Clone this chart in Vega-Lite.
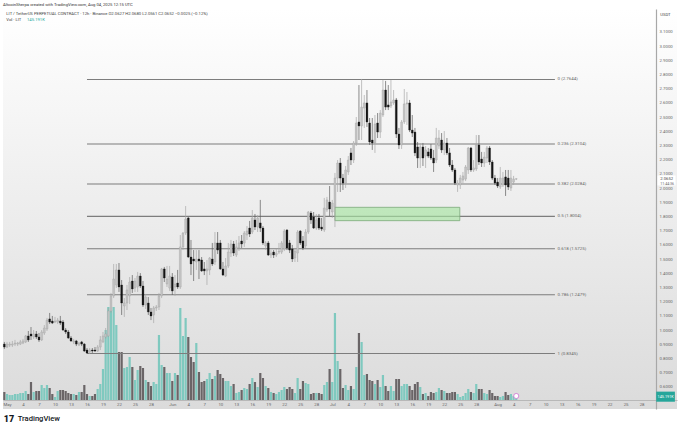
{"$schema":"https://vega.github.io/schema/vega-lite/v6.json","width":674,"height":400,"autosize":"none","padding":{"left":3,"top":9,"right":3,"bottom":21},"background":"#ffffff",
"config":{"axis":{"labelOverlap":false,"labelFlush":false,"labelFont":"Roboto","labelFontSize":4.3,"labelColor":"#666666","ticks":false,"grid":false,"title":null,"labelBound":false,"labelSeparation":0,"tickCount":100}},
"view":{"stroke":null,"fill":{"gradient":"linear","x1":0,"y1":0,"x2":0,"y2":1,"stops":[{"offset":0,"color":"#ffffff"},{"offset":1,"color":"#dbdbdb"}]}},
"title":{"text":"AltcoinSherpa created with TradingView.com, Aug 04, 2025 12:15 UTC","anchor":"start","frame":"group","fontSize":4.2,"fontWeight":"normal","font":"Roboto","color":"#333333","offset":2},
"datasets":{
"bars":[
{"d":"2025-04-30T12:00Z","o":0.901,"h":0.916,"l":0.866,"c":0.880,"v":384},
{"d":"2025-05-01T00:00Z","o":0.880,"h":0.916,"l":0.873,"c":0.901,"v":288},
{"d":"2025-05-01T12:00Z","o":0.894,"h":0.916,"l":0.880,"c":0.901,"v":240},
{"d":"2025-05-02T00:00Z","o":0.894,"h":0.923,"l":0.880,"c":0.901,"v":240},
{"d":"2025-05-02T12:00Z","o":0.901,"h":0.930,"l":0.887,"c":0.908,"v":288},
{"d":"2025-05-03T00:00Z","o":0.901,"h":0.916,"l":0.887,"c":0.908,"v":288},
{"d":"2025-05-03T12:00Z","o":0.901,"h":0.930,"l":0.894,"c":0.916,"v":336},
{"d":"2025-05-04T00:00Z","o":0.908,"h":0.937,"l":0.901,"c":0.923,"v":336},
{"d":"2025-05-04T12:00Z","o":0.916,"h":0.965,"l":0.908,"c":0.958,"v":432},
{"d":"2025-05-05T00:00Z","o":0.958,"h":0.993,"l":0.916,"c":0.930,"v":288},
{"d":"2025-05-05T12:00Z","o":0.972,"h":1.021,"l":0.930,"c":0.958,"v":864},
{"d":"2025-05-06T00:00Z","o":0.951,"h":1.000,"l":0.937,"c":0.972,"v":384},
{"d":"2025-05-06T12:00Z","o":0.972,"h":0.993,"l":0.937,"c":0.951,"v":432},
{"d":"2025-05-07T00:00Z","o":0.951,"h":0.979,"l":0.916,"c":0.930,"v":432},
{"d":"2025-05-07T12:00Z","o":0.930,"h":1.000,"l":0.923,"c":0.986,"v":720},
{"d":"2025-05-08T00:00Z","o":0.979,"h":1.035,"l":0.965,"c":1.014,"v":576},
{"d":"2025-05-08T12:00Z","o":1.007,"h":1.085,"l":0.993,"c":1.070,"v":720},
{"d":"2025-05-09T00:00Z","o":1.078,"h":1.120,"l":1.042,"c":1.056,"v":576},
{"d":"2025-05-09T12:00Z","o":1.063,"h":1.099,"l":1.042,"c":1.049,"v":288},
{"d":"2025-05-10T00:00Z","o":1.056,"h":1.092,"l":1.049,"c":1.063,"v":144},
{"d":"2025-05-10T12:00Z","o":1.056,"h":1.085,"l":1.042,"c":1.070,"v":432},
{"d":"2025-05-11T00:00Z","o":1.063,"h":1.099,"l":1.035,"c":1.049,"v":480},
{"d":"2025-05-11T12:00Z","o":1.056,"h":1.070,"l":0.993,"c":1.000,"v":480},
{"d":"2025-05-12T00:00Z","o":1.000,"h":1.014,"l":0.972,"c":0.986,"v":432},
{"d":"2025-05-12T12:00Z","o":0.986,"h":1.000,"l":0.937,"c":0.944,"v":336},
{"d":"2025-05-13T00:00Z","o":0.944,"h":0.958,"l":0.916,"c":0.923,"v":288},
{"d":"2025-05-13T12:00Z","o":0.916,"h":0.937,"l":0.901,"c":0.923,"v":288},
{"d":"2025-05-14T00:00Z","o":0.923,"h":0.930,"l":0.887,"c":0.901,"v":240},
{"d":"2025-05-14T12:00Z","o":0.894,"h":0.916,"l":0.887,"c":0.908,"v":384},
{"d":"2025-05-15T00:00Z","o":0.916,"h":0.923,"l":0.887,"c":0.901,"v":384},
{"d":"2025-05-15T12:00Z","o":0.901,"h":0.908,"l":0.845,"c":0.852,"v":720},
{"d":"2025-05-16T00:00Z","o":0.859,"h":0.873,"l":0.831,"c":0.838,"v":288},
{"d":"2025-05-16T12:00Z","o":0.845,"h":0.873,"l":0.831,"c":0.859,"v":192},
{"d":"2025-05-17T00:00Z","o":0.859,"h":0.873,"l":0.838,"c":0.852,"v":192},
{"d":"2025-05-17T12:00Z","o":0.859,"h":0.880,"l":0.845,"c":0.852,"v":288},
{"d":"2025-05-18T00:00Z","o":0.852,"h":0.894,"l":0.845,"c":0.880,"v":528},
{"d":"2025-05-18T12:00Z","o":0.880,"h":0.958,"l":0.859,"c":0.930,"v":768},
{"d":"2025-05-19T00:00Z","o":0.916,"h":0.986,"l":0.908,"c":0.958,"v":1488},
{"d":"2025-05-19T12:00Z","o":0.951,"h":1.014,"l":0.937,"c":0.972,"v":3360},
{"d":"2025-05-20T00:00Z","o":0.958,"h":1.155,"l":0.951,"c":1.134,"v":4464},
{"d":"2025-05-20T12:00Z","o":1.134,"h":1.261,"l":1.120,"c":1.240,"v":4464},
{"d":"2025-05-21T00:00Z","o":1.240,"h":1.465,"l":1.225,"c":1.359,"v":4464},
{"d":"2025-05-21T12:00Z","o":1.317,"h":1.465,"l":1.296,"c":1.423,"v":3600},
{"d":"2025-05-22T00:00Z","o":1.423,"h":1.472,"l":1.268,"c":1.303,"v":2304},
{"d":"2025-05-22T12:00Z","o":1.317,"h":1.352,"l":1.106,"c":1.190,"v":2304},
{"d":"2025-05-23T00:00Z","o":1.169,"h":1.225,"l":1.092,"c":1.190,"v":1536},
{"d":"2025-05-23T12:00Z","o":1.190,"h":1.317,"l":1.141,"c":1.282,"v":1584},
{"d":"2025-05-24T00:00Z","o":1.240,"h":1.373,"l":1.183,"c":1.338,"v":2064},
{"d":"2025-05-24T12:00Z","o":1.345,"h":1.387,"l":1.261,"c":1.289,"v":1584},
{"d":"2025-05-25T00:00Z","o":1.296,"h":1.366,"l":1.268,"c":1.345,"v":960},
{"d":"2025-05-25T12:00Z","o":1.303,"h":1.409,"l":1.268,"c":1.380,"v":1440},
{"d":"2025-05-26T00:00Z","o":1.380,"h":1.401,"l":1.296,"c":1.310,"v":1632},
{"d":"2025-05-26T12:00Z","o":1.310,"h":1.345,"l":1.162,"c":1.176,"v":1536},
{"d":"2025-05-27T00:00Z","o":1.176,"h":1.254,"l":1.148,"c":1.232,"v":960},
{"d":"2025-05-27T12:00Z","o":1.190,"h":1.232,"l":1.106,"c":1.127,"v":864},
{"d":"2025-05-28T00:00Z","o":1.127,"h":1.155,"l":1.070,"c":1.099,"v":672},
{"d":"2025-05-28T12:00Z","o":1.106,"h":1.169,"l":1.049,"c":1.155,"v":864},
{"d":"2025-05-29T00:00Z","o":1.155,"h":1.176,"l":1.134,"c":1.162,"v":768},
{"d":"2025-05-29T12:00Z","o":1.162,"h":1.261,"l":1.141,"c":1.240,"v":3120},
{"d":"2025-05-30T00:00Z","o":1.240,"h":1.437,"l":1.225,"c":1.430,"v":1680},
{"d":"2025-05-30T12:00Z","o":1.430,"h":1.444,"l":1.338,"c":1.366,"v":1584},
{"d":"2025-05-31T00:00Z","o":1.324,"h":1.451,"l":1.303,"c":1.359,"v":1296},
{"d":"2025-05-31T12:00Z","o":1.296,"h":1.451,"l":1.275,"c":1.380,"v":1296},
{"d":"2025-06-01T00:00Z","o":1.373,"h":1.401,"l":1.247,"c":1.275,"v":912},
{"d":"2025-06-01T12:00Z","o":1.303,"h":1.387,"l":1.240,"c":1.324,"v":1296},
{"d":"2025-06-02T00:00Z","o":1.331,"h":1.423,"l":1.289,"c":1.303,"v":1200},
{"d":"2025-06-02T12:00Z","o":1.303,"h":1.669,"l":1.289,"c":1.585,"v":4416},
{"d":"2025-06-03T00:00Z","o":1.585,"h":1.690,"l":1.563,"c":1.683,"v":3072},
{"d":"2025-06-03T12:00Z","o":1.683,"h":1.873,"l":1.669,"c":1.782,"v":3936},
{"d":"2025-06-04T00:00Z","o":1.789,"h":1.796,"l":1.507,"c":1.514,"v":3024},
{"d":"2025-06-04T12:00Z","o":1.514,"h":1.634,"l":1.387,"c":1.465,"v":2064},
{"d":"2025-06-05T00:00Z","o":1.500,"h":1.563,"l":1.345,"c":1.486,"v":1824},
{"d":"2025-06-05T12:00Z","o":1.479,"h":1.563,"l":1.423,"c":1.500,"v":2736},
{"d":"2025-06-06T00:00Z","o":1.500,"h":1.563,"l":1.359,"c":1.486,"v":1344},
{"d":"2025-06-06T12:00Z","o":1.493,"h":1.514,"l":1.409,"c":1.416,"v":864},
{"d":"2025-06-07T00:00Z","o":1.430,"h":1.479,"l":1.387,"c":1.416,"v":912},
{"d":"2025-06-07T12:00Z","o":1.416,"h":1.493,"l":1.317,"c":1.430,"v":1008},
{"d":"2025-06-08T00:00Z","o":1.423,"h":1.514,"l":1.387,"c":1.507,"v":1296},
{"d":"2025-06-08T12:00Z","o":1.500,"h":1.613,"l":1.451,"c":1.465,"v":1008},
{"d":"2025-06-09T00:00Z","o":1.479,"h":1.690,"l":1.458,"c":1.613,"v":1152},
{"d":"2025-06-09T12:00Z","o":1.613,"h":1.690,"l":1.535,"c":1.563,"v":1440},
{"d":"2025-06-10T00:00Z","o":1.613,"h":1.634,"l":1.423,"c":1.430,"v":1248},
{"d":"2025-06-10T12:00Z","o":1.430,"h":1.479,"l":1.380,"c":1.387,"v":1056},
{"d":"2025-06-11T00:00Z","o":1.380,"h":1.507,"l":1.373,"c":1.451,"v":912},
{"d":"2025-06-11T12:00Z","o":1.451,"h":1.613,"l":1.437,"c":1.549,"v":912},
{"d":"2025-06-12T00:00Z","o":1.542,"h":1.634,"l":1.514,"c":1.606,"v":672},
{"d":"2025-06-12T12:00Z","o":1.606,"h":1.627,"l":1.521,"c":1.542,"v":768},
{"d":"2025-06-13T00:00Z","o":1.528,"h":1.634,"l":1.514,"c":1.585,"v":336},
{"d":"2025-06-13T12:00Z","o":1.578,"h":1.662,"l":1.556,"c":1.613,"v":384},
{"d":"2025-06-14T00:00Z","o":1.627,"h":1.669,"l":1.578,"c":1.606,"v":480},
{"d":"2025-06-14T12:00Z","o":1.613,"h":1.697,"l":1.585,"c":1.683,"v":576},
{"d":"2025-06-15T00:00Z","o":1.669,"h":1.732,"l":1.634,"c":1.697,"v":528},
{"d":"2025-06-15T12:00Z","o":1.718,"h":1.768,"l":1.655,"c":1.676,"v":768},
{"d":"2025-06-16T00:00Z","o":1.690,"h":1.845,"l":1.676,"c":1.789,"v":1056},
{"d":"2025-06-16T12:00Z","o":1.775,"h":1.817,"l":1.704,"c":1.725,"v":864},
{"d":"2025-06-17T00:00Z","o":1.725,"h":1.810,"l":1.690,"c":1.789,"v":624},
{"d":"2025-06-17T12:00Z","o":1.754,"h":1.916,"l":1.690,"c":1.718,"v":1296},
{"d":"2025-06-18T00:00Z","o":1.718,"h":1.732,"l":1.599,"c":1.613,"v":1056},
{"d":"2025-06-18T12:00Z","o":1.592,"h":1.627,"l":1.563,"c":1.613,"v":672},
{"d":"2025-06-19T00:00Z","o":1.613,"h":1.627,"l":1.521,"c":1.528,"v":576},
{"d":"2025-06-19T12:00Z","o":1.528,"h":1.563,"l":1.507,"c":1.542,"v":384},
{"d":"2025-06-20T00:00Z","o":1.549,"h":1.563,"l":1.507,"c":1.528,"v":336},
{"d":"2025-06-20T12:00Z","o":1.528,"h":1.571,"l":1.514,"c":1.542,"v":288},
{"d":"2025-06-21T00:00Z","o":1.549,"h":1.613,"l":1.535,"c":1.556,"v":384},
{"d":"2025-06-21T12:00Z","o":1.549,"h":1.627,"l":1.535,"c":1.613,"v":480},
{"d":"2025-06-22T00:00Z","o":1.571,"h":1.711,"l":1.556,"c":1.697,"v":624},
{"d":"2025-06-22T12:00Z","o":1.704,"h":1.711,"l":1.563,"c":1.578,"v":528},
{"d":"2025-06-23T00:00Z","o":1.613,"h":1.634,"l":1.542,"c":1.563,"v":624},
{"d":"2025-06-23T12:00Z","o":1.571,"h":1.599,"l":1.479,"c":1.500,"v":528},
{"d":"2025-06-24T00:00Z","o":1.507,"h":1.578,"l":1.479,"c":1.556,"v":336},
{"d":"2025-06-24T12:00Z","o":1.542,"h":1.704,"l":1.479,"c":1.690,"v":1056},
{"d":"2025-06-25T00:00Z","o":1.697,"h":1.704,"l":1.599,"c":1.613,"v":528},
{"d":"2025-06-25T12:00Z","o":1.627,"h":1.662,"l":1.563,"c":1.578,"v":912},
{"d":"2025-06-26T00:00Z","o":1.592,"h":1.711,"l":1.578,"c":1.690,"v":816},
{"d":"2025-06-26T12:00Z","o":1.690,"h":1.838,"l":1.676,"c":1.831,"v":768},
{"d":"2025-06-27T00:00Z","o":1.824,"h":1.838,"l":1.747,"c":1.775,"v":288},
{"d":"2025-06-27T12:00Z","o":1.796,"h":1.831,"l":1.711,"c":1.718,"v":336},
{"d":"2025-06-28T00:00Z","o":1.718,"h":1.817,"l":1.704,"c":1.775,"v":336},
{"d":"2025-06-28T12:00Z","o":1.789,"h":1.817,"l":1.704,"c":1.718,"v":336},
{"d":"2025-06-29T00:00Z","o":1.725,"h":1.789,"l":1.697,"c":1.711,"v":288},
{"d":"2025-06-29T12:00Z","o":1.704,"h":1.930,"l":1.690,"c":1.859,"v":720},
{"d":"2025-06-30T00:00Z","o":1.845,"h":1.937,"l":1.831,"c":1.916,"v":864},
{"d":"2025-06-30T12:00Z","o":1.901,"h":2.014,"l":1.803,"c":1.852,"v":1488},
{"d":"2025-07-01T00:00Z","o":1.831,"h":1.916,"l":1.789,"c":1.894,"v":864},
{"d":"2025-07-01T12:00Z","o":1.866,"h":2.106,"l":1.725,"c":2.070,"v":4176},
{"d":"2025-07-02T00:00Z","o":2.070,"h":2.197,"l":1.972,"c":2.176,"v":1872},
{"d":"2025-07-02T12:00Z","o":2.176,"h":2.211,"l":1.972,"c":2.070,"v":1488},
{"d":"2025-07-03T00:00Z","o":2.070,"h":2.099,"l":1.986,"c":2.035,"v":576},
{"d":"2025-07-03T12:00Z","o":2.035,"h":2.155,"l":2.000,"c":2.127,"v":720},
{"d":"2025-07-04T00:00Z","o":2.113,"h":2.225,"l":2.092,"c":2.197,"v":480},
{"d":"2025-07-04T12:00Z","o":2.247,"h":2.282,"l":2.162,"c":2.197,"v":672},
{"d":"2025-07-05T00:00Z","o":2.197,"h":2.331,"l":2.176,"c":2.317,"v":528},
{"d":"2025-07-05T12:00Z","o":2.317,"h":2.500,"l":2.296,"c":2.458,"v":1584},
{"d":"2025-07-06T00:00Z","o":2.465,"h":2.725,"l":2.338,"c":2.437,"v":3216},
{"d":"2025-07-06T12:00Z","o":2.437,"h":2.768,"l":2.338,"c":2.570,"v":2784},
{"d":"2025-07-07T00:00Z","o":2.563,"h":2.655,"l":2.423,"c":2.599,"v":1200},
{"d":"2025-07-07T12:00Z","o":2.599,"h":2.690,"l":2.430,"c":2.465,"v":1248},
{"d":"2025-07-08T00:00Z","o":2.458,"h":2.493,"l":2.303,"c":2.324,"v":960},
{"d":"2025-07-08T12:00Z","o":2.338,"h":2.493,"l":2.268,"c":2.317,"v":912},
{"d":"2025-07-09T00:00Z","o":2.317,"h":2.514,"l":2.247,"c":2.451,"v":768},
{"d":"2025-07-09T12:00Z","o":2.458,"h":2.528,"l":2.352,"c":2.394,"v":960},
{"d":"2025-07-10T00:00Z","o":2.394,"h":2.549,"l":2.352,"c":2.528,"v":624},
{"d":"2025-07-10T12:00Z","o":2.514,"h":2.761,"l":2.500,"c":2.690,"v":1200},
{"d":"2025-07-11T00:00Z","o":2.690,"h":2.754,"l":2.549,"c":2.570,"v":672},
{"d":"2025-07-11T12:00Z","o":2.585,"h":2.725,"l":2.549,"c":2.570,"v":432},
{"d":"2025-07-12T00:00Z","o":2.578,"h":2.761,"l":2.563,"c":2.606,"v":672},
{"d":"2025-07-12T12:00Z","o":2.599,"h":2.690,"l":2.585,"c":2.620,"v":432},
{"d":"2025-07-13T00:00Z","o":2.620,"h":2.634,"l":2.352,"c":2.380,"v":1008},
{"d":"2025-07-13T12:00Z","o":2.380,"h":2.423,"l":2.275,"c":2.303,"v":1008},
{"d":"2025-07-14T00:00Z","o":2.303,"h":2.479,"l":2.275,"c":2.465,"v":672},
{"d":"2025-07-14T12:00Z","o":2.465,"h":2.697,"l":2.451,"c":2.592,"v":768},
{"d":"2025-07-15T00:00Z","o":2.592,"h":2.676,"l":2.444,"c":2.599,"v":768},
{"d":"2025-07-15T12:00Z","o":2.599,"h":2.620,"l":2.394,"c":2.408,"v":672},
{"d":"2025-07-16T00:00Z","o":2.408,"h":2.514,"l":2.359,"c":2.387,"v":480},
{"d":"2025-07-16T12:00Z","o":2.394,"h":2.423,"l":2.225,"c":2.247,"v":768},
{"d":"2025-07-17T00:00Z","o":2.289,"h":2.324,"l":2.141,"c":2.211,"v":864},
{"d":"2025-07-17T12:00Z","o":2.211,"h":2.317,"l":2.141,"c":2.289,"v":624},
{"d":"2025-07-18T00:00Z","o":2.289,"h":2.317,"l":2.155,"c":2.211,"v":288},
{"d":"2025-07-18T12:00Z","o":2.225,"h":2.296,"l":2.141,"c":2.268,"v":336},
{"d":"2025-07-19T00:00Z","o":2.254,"h":2.282,"l":2.211,"c":2.225,"v":192},
{"d":"2025-07-19T12:00Z","o":2.275,"h":2.310,"l":2.197,"c":2.211,"v":384},
{"d":"2025-07-20T00:00Z","o":2.211,"h":2.268,"l":2.113,"c":2.176,"v":336},
{"d":"2025-07-20T12:00Z","o":2.197,"h":2.423,"l":2.176,"c":2.352,"v":384},
{"d":"2025-07-21T00:00Z","o":2.296,"h":2.408,"l":2.275,"c":2.352,"v":576},
{"d":"2025-07-21T12:00Z","o":2.338,"h":2.387,"l":2.247,"c":2.268,"v":480},
{"d":"2025-07-22T00:00Z","o":2.268,"h":2.401,"l":2.232,"c":2.317,"v":432},
{"d":"2025-07-22T12:00Z","o":2.317,"h":2.352,"l":2.232,"c":2.247,"v":336},
{"d":"2025-07-23T00:00Z","o":2.247,"h":2.282,"l":2.148,"c":2.162,"v":336},
{"d":"2025-07-23T12:00Z","o":2.162,"h":2.197,"l":2.113,"c":2.127,"v":384},
{"d":"2025-07-24T00:00Z","o":2.127,"h":2.141,"l":2.021,"c":2.035,"v":384},
{"d":"2025-07-24T12:00Z","o":2.021,"h":2.056,"l":1.972,"c":2.035,"v":288},
{"d":"2025-07-25T00:00Z","o":2.021,"h":2.092,"l":1.993,"c":2.070,"v":144},
{"d":"2025-07-25T12:00Z","o":2.056,"h":2.113,"l":2.035,"c":2.085,"v":192},
{"d":"2025-07-26T00:00Z","o":2.063,"h":2.162,"l":2.049,"c":2.148,"v":336},
{"d":"2025-07-26T12:00Z","o":2.127,"h":2.289,"l":2.099,"c":2.282,"v":528},
{"d":"2025-07-27T00:00Z","o":2.282,"h":2.289,"l":2.113,"c":2.127,"v":384},
{"d":"2025-07-27T12:00Z","o":2.127,"h":2.197,"l":2.113,"c":2.141,"v":336},
{"d":"2025-07-28T00:00Z","o":2.134,"h":2.373,"l":2.120,"c":2.303,"v":768},
{"d":"2025-07-28T12:00Z","o":2.303,"h":2.373,"l":2.162,"c":2.183,"v":528},
{"d":"2025-07-29T00:00Z","o":2.204,"h":2.254,"l":2.148,"c":2.176,"v":528},
{"d":"2025-07-29T12:00Z","o":2.176,"h":2.254,"l":2.148,"c":2.218,"v":336},
{"d":"2025-07-30T00:00Z","o":2.211,"h":2.296,"l":2.176,"c":2.282,"v":288},
{"d":"2025-07-30T12:00Z","o":2.282,"h":2.296,"l":2.162,"c":2.183,"v":480},
{"d":"2025-07-31T00:00Z","o":2.183,"h":2.197,"l":2.056,"c":2.070,"v":336},
{"d":"2025-07-31T12:00Z","o":2.070,"h":2.092,"l":2.021,"c":2.035,"v":192},
{"d":"2025-08-01T00:00Z","o":2.042,"h":2.070,"l":2.000,"c":2.014,"v":192},
{"d":"2025-08-01T12:00Z","o":2.007,"h":2.148,"l":1.993,"c":2.070,"v":144},
{"d":"2025-08-02T00:00Z","o":2.021,"h":2.113,"l":2.007,"c":2.070,"v":192},
{"d":"2025-08-02T12:00Z","o":2.078,"h":2.127,"l":1.944,"c":2.021,"v":384},
{"d":"2025-08-03T00:00Z","o":2.070,"h":2.127,"l":1.986,"c":2.007,"v":240},
{"d":"2025-08-03T12:00Z","o":2.000,"h":2.127,"l":1.979,"c":2.070,"v":288},
{"d":"2025-08-04T00:00Z","o":2.042,"h":2.085,"l":2.021,"c":2.063,"v":192},
{"d":"2025-08-04T12:00Z","o":2.0627,"h":2.0680,"l":2.0561,"c":2.0652,"v":145.191}
],
"fib":[
{"a":"2025-05-16T00:00Z","b":"2025-08-11T18:00Z","t":"2025-08-12T06:00Z","p":2.7644,"label":"0 (2.7644)"},
{"a":"2025-05-16T00:00Z","b":"2025-08-11T18:00Z","t":"2025-08-12T06:00Z","p":2.3104,"label":"0.236 (2.3104)"},
{"a":"2025-05-16T00:00Z","b":"2025-08-11T18:00Z","t":"2025-08-12T06:00Z","p":2.0284,"label":"0.382 (2.0284)"},
{"a":"2025-05-16T00:00Z","b":"2025-08-11T18:00Z","t":"2025-08-12T06:00Z","p":1.8004,"label":"0.5 (1.8004)"},
{"a":"2025-05-16T00:00Z","b":"2025-08-11T18:00Z","t":"2025-08-12T06:00Z","p":1.5725,"label":"0.618 (1.5725)"},
{"a":"2025-05-16T00:00Z","b":"2025-08-11T18:00Z","t":"2025-08-12T06:00Z","p":1.2479,"label":"0.786 (1.2479)"},
{"a":"2025-05-16T00:00Z","b":"2025-08-11T18:00Z","t":"2025-08-12T06:00Z","p":0.8345,"label":"1 (0.8345)"}
]
},
"layer":[
{"layer":[
{"data":{"name":"bars"},"mark":{"type":"bar","width":2.2},
"encoding":{
"x":{"field":"d","type":"temporal","title":null,"scale":{"type":"utc","nice":false,"padding":0,"domain":[{"year":2025,"month":4,"date":30,"hours":6,"utc":true},{"year":2025,"month":9,"date":3,"hours":15,"minutes":30,"utc":true}]},
"axis":{"orient":"bottom","offset":-9,"domainColor":"#b8b8b8","domainWidth":1,"labelPadding":2,"labelOverlap":false,"tickCount":100,"labelExpr":"utcdate(datum.value)==1 ? utcFormat(datum.value,'%b') : ''+utcdate(datum.value)",
"values":[{"year":2025,"month":5,"date":1,"utc":true},{"year":2025,"month":5,"date":4,"utc":true},{"year":2025,"month":5,"date":7,"utc":true},{"year":2025,"month":5,"date":10,"utc":true},{"year":2025,"month":5,"date":13,"utc":true},{"year":2025,"month":5,"date":16,"utc":true},{"year":2025,"month":5,"date":19,"utc":true},{"year":2025,"month":5,"date":22,"utc":true},{"year":2025,"month":5,"date":25,"utc":true},{"year":2025,"month":5,"date":28,"utc":true},{"year":2025,"month":6,"date":1,"utc":true},{"year":2025,"month":6,"date":4,"utc":true},{"year":2025,"month":6,"date":7,"utc":true},{"year":2025,"month":6,"date":10,"utc":true},{"year":2025,"month":6,"date":13,"utc":true},{"year":2025,"month":6,"date":16,"utc":true},{"year":2025,"month":6,"date":19,"utc":true},{"year":2025,"month":6,"date":22,"utc":true},{"year":2025,"month":6,"date":25,"utc":true},{"year":2025,"month":6,"date":28,"utc":true},{"year":2025,"month":7,"date":1,"utc":true},{"year":2025,"month":7,"date":4,"utc":true},{"year":2025,"month":7,"date":7,"utc":true},{"year":2025,"month":7,"date":10,"utc":true},{"year":2025,"month":7,"date":13,"utc":true},{"year":2025,"month":7,"date":16,"utc":true},{"year":2025,"month":7,"date":19,"utc":true},{"year":2025,"month":7,"date":22,"utc":true},{"year":2025,"month":7,"date":25,"utc":true},{"year":2025,"month":7,"date":28,"utc":true},{"year":2025,"month":8,"date":1,"utc":true},{"year":2025,"month":8,"date":4,"utc":true},{"year":2025,"month":8,"date":7,"utc":true},{"year":2025,"month":8,"date":10,"utc":true},{"year":2025,"month":8,"date":13,"utc":true},{"year":2025,"month":8,"date":16,"utc":true},{"year":2025,"month":8,"date":19,"utc":true},{"year":2025,"month":8,"date":22,"utc":true},{"year":2025,"month":8,"date":25,"utc":true},{"year":2025,"month":8,"date":28,"utc":true}]}},
"y":{"field":"v","type":"quantitative","stack":null,"axis":null,"scale":{"domain":[-432,18768],"zero":false,"nice":false}},
"y2":{"datum":0},
"color":{"condition":{"test":"datum.c>=datum.o","value":"#7fc9bf"},"value":"#6a6567"}}},
{"data":{"values":[{"d":"2025-08-04T12:00Z","v":192}]},"mark":{"type":"point","filled":true,"fill":"#ffffff","stroke":"#cf6fd3","strokeWidth":0.8,"size":26,"opacity":1},
"encoding":{"x":{"field":"d","type":"temporal"},"y":{"field":"v","type":"quantitative","axis":null}}}
]},
{"layer":[
{"data":{"name":"fib"},"mark":{"type":"rule","color":"#7d7d7d","strokeWidth":1.1},
"encoding":{"x":{"field":"a","type":"temporal"},"x2":{"field":"b"},
"y":{"field":"p","type":"quantitative","scale":{"domain":[0.4437,3.2606],"zero":false,"nice":false},"axis":{"orient":"right","offset":-21,"domainColor":"#a8a8a8","domainWidth":1.2,"labelPadding":3,"format":".4f","labelOverlap":false,"tickCount":100,"values":[0.6,0.7,0.8,0.9,1.0,1.1,1.2,1.3,1.4,1.5,1.6,1.7,1.8,1.9,2.0,2.1,2.2,2.3,2.4,2.5,2.6,2.7,2.8,2.9,3.0,3.1]}}}},
{"data":{"name":"fib"},"mark":{"type":"text","align":"left","baseline":"middle","font":"Roboto","fontSize":4.4,"color":"#666666"},
"encoding":{"x":{"field":"t","type":"temporal"},"y":{"field":"p","type":"quantitative"},"text":{"field":"label"}}},
{"data":{"values":[{"a":"2025-07-01T12:00Z","b":"2025-07-24T22:00Z","top":1.864,"bot":1.770}]},"mark":{"type":"rect","fill":"#a6e3a1","fillOpacity":0.65,"stroke":"#7ba87a","strokeWidth":0.8},
"encoding":{"x":{"field":"a","type":"temporal"},"x2":{"field":"b"},"y":{"field":"top","type":"quantitative"},"y2":{"field":"bot"}}},
{"data":{"name":"bars"},"mark":{"type":"rule","strokeWidth":0.7},
"encoding":{"x":{"field":"d","type":"temporal"},"y":{"field":"l","type":"quantitative"},"y2":{"field":"h"},
"color":{"condition":{"test":"datum.c>=datum.o","value":"#a8a8a8"},"value":"#5c5c5c"}}},
{"data":{"name":"bars"},"mark":{"type":"bar","width":1.9,"strokeWidth":0.3},
"encoding":{"x":{"field":"d","type":"temporal"},"y":{"field":"o","type":"quantitative"},"y2":{"field":"c"},
"color":{"condition":{"test":"datum.c>=datum.o","value":"#c4c4c4"},"value":"#151515"},
"stroke":{"condition":{"test":"datum.c>=datum.o","value":"#999999"},"value":"#151515"}}},
{"data":{"values":[{"a":"2025-08-31T00:00Z","b":"2025-09-03T09:00Z","top":2.088,"bot":2.018}]},"mark":{"type":"rect","fill":"#ffffff"},
"encoding":{"x":{"field":"a","type":"temporal"},"x2":{"field":"b"},"y":{"field":"top","type":"quantitative"},"y2":{"field":"bot"}}},
{"data":{"values":[{"a":"2025-08-30T18:00Z","b":"2025-09-03T06:00Z","top":0.5660,"bot":0.4950}]},"mark":{"type":"rect","fill":"#26a69a"},
"encoding":{"x":{"field":"a","type":"temporal"},"x2":{"field":"b"},"y":{"field":"top","type":"quantitative"},"y2":{"field":"bot"}}},
{"data":{"values":[{"d":"2025-04-30T21:00Z","p":3.225,"t":"LIT / TetherUS PERPETUAL CONTRACT · 12h · Binance  O2.0627 H2.0680 L2.0561 C2.0652 −0.0025 (−0.12%)"},{"d":"2025-04-30T21:00Z","p":3.186,"t":"Vol · LIT"},{"d":"2025-08-31T12:00Z","p":3.218,"t":"USDT"},{"d":"2025-08-31T12:00Z","p":2.0652,"t":"2.0652"}]},"mark":{"type":"text","align":"left","baseline":"middle","font":"Roboto","fontSize":4.2,"color":"#444444"},
"encoding":{"x":{"field":"d","type":"temporal"},"y":{"field":"p","type":"quantitative"},"text":{"field":"t"}}},
{"data":{"values":[{"d":"2025-05-04T18:00Z","p":3.186,"t":"145.191K"}]},"mark":{"type":"text","align":"left","baseline":"middle","font":"Roboto","fontSize":4.2,"color":"#26a69a"},
"encoding":{"x":{"field":"d","type":"temporal"},"y":{"field":"p","type":"quantitative"},"text":{"field":"t"}}},
{"data":{"values":[{"d":"2025-08-31T12:00Z","p":2.03,"t":"11:44:36"}]},"mark":{"type":"text","align":"left","baseline":"middle","font":"Roboto","fontSize":3.6,"color":"#666666"},
"encoding":{"x":{"field":"d","type":"temporal"},"y":{"field":"p","type":"quantitative"},"text":{"field":"t"}}},
{"data":{"values":[{"d":"2025-08-31T00:00Z","p":0.53,"t":"145.191K"}]},"mark":{"type":"text","align":"left","baseline":"middle","font":"Roboto","fontSize":3.8,"color":"#ffffff"},
"encoding":{"x":{"field":"d","type":"temporal"},"y":{"field":"p","type":"quantitative"},"text":{"field":"t"}}},
{"data":{"values":[{"d":"2025-04-30T09:00Z","p":0.372,"t":"17"}]},"mark":{"type":"text","align":"left","baseline":"middle","font":"Roboto","fontSize":9,"fontWeight":900,"color":"#131722"},
"encoding":{"x":{"field":"d","type":"temporal"},"y":{"field":"p","type":"quantitative"},"text":{"field":"t"}}},
{"data":{"values":[{"d":"2025-05-03T00:00Z","p":0.372,"t":"TradingView"}]},"mark":{"type":"text","align":"left","baseline":"middle","font":"Roboto","fontSize":7.6,"fontWeight":500,"color":"#131722"},
"encoding":{"x":{"field":"d","type":"temporal"},"y":{"field":"p","type":"quantitative"},"text":{"field":"t"}}}
]}
],
"resolve":{"scale":{"y":"independent"}}
}
